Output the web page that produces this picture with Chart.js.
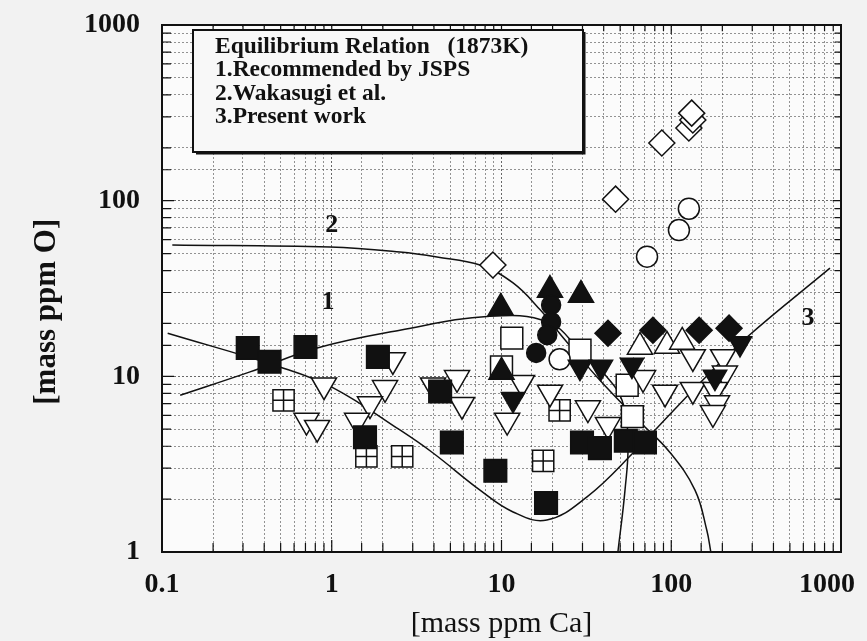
<!DOCTYPE html>
<html>
<head>
<meta charset="utf-8">
<script src="https://cdn.jsdelivr.net/npm/chart.js@4.4.1/dist/chart.umd.min.js"></script>
<style>
  html, body { margin: 0; padding: 0; background: #f2f2f2; }
</style>
</head>
<body>
<canvas id="chart" width="867" height="641"></canvas>
<script>
// tick labels
const xTickLabels = [0.1, 1, 10, 100, 1000];
const yTickLabels = [1, 10, 100, 1000];

// measured points, [mass ppm Ca] / [mass ppm O]
const filledSquareCa = [0.32, 0.43, 0.70, 1.87, 1.57, 4.35, 5.1, 9.2, 18.3, 29.8, 38, 54, 70];
const filledSquareO  = [14.5, 12.1, 14.7, 12.9, 4.5, 8.2, 4.2, 2.9, 1.9, 4.2, 3.9, 4.3, 4.2];

const gridSquareCa = [0.52, 1.6, 2.6, 17.6, 22];
const gridSquareO  = [7.3, 3.5, 3.5, 3.3, 6.4];

const openSquareCa = [11.5, 29, 10, 55, 59];
const openSquareO  = [16.5, 14.1, 11.3, 8.9, 5.9];

const openCircleCa = [72, 111, 127, 22];
const openCircleO  = [48, 68, 90, 12.5];

const filledCircleCa = [19.6, 19.6, 18.6, 16];
const filledCircleO  = [25.5, 20.4, 17.2, 13.6];

const filledTriUpCa = [9.9, 19.3, 29.4, 10];
const filledTriUpO  = [24.5, 31, 29, 10.6];

const openTriUpCa = [65.4, 94.4, 116];
const openTriUpO  = [14.7, 14.9, 15.7];

const filledTriDownCa = [11.7, 29, 38.5, 58.7, 181, 254];
const filledTriDownO  = [7.4, 11.3, 11.3, 11.6, 9.9, 15.4];

const openTriDownCa = [0.90, 0.71, 0.82, 2.29, 2.06, 1.68, 1.41, 3.95, 5.47, 5.85, 10.8, 13.2, 19.3, 32.3, 42.4, 68.2, 91.9, 134, 134, 202, 207, 181, 186, 176];
const openTriDownO  = [8.9, 5.6, 5.1, 12.4, 8.6, 6.95, 5.6, 8.9, 9.8, 6.9, 5.6, 9.2, 8.1, 6.6, 5.3, 9.8, 8.1, 12.9, 8.4, 12.9, 10.4, 8.4, 7.05, 6.2];

const filledDiamondCa = [42.4, 78, 146, 219];
const filledDiamondO  = [17.6, 18.3, 18.3, 18.8];

const openDiamondCa = [8.9, 47, 88, 127, 134, 132];
const openDiamondO  = [43, 102, 213, 259, 288, 315];

// equilibrium curves
const curve1Ca = [0.128, 0.33, 0.82, 2.52, 8.55, 18.8, 29, 40.7, 51.3, 55.6, 53.4, 48.5];
const curve1O  = [7.8, 10.6, 14.5, 18.3, 22, 20.4, 14.1, 10.2, 7.3, 4.3, 2.25, 1];

const curve2Ca = [0.115, 0.977, 2.52, 4.17, 7.47, 11.7, 16.9, 23.7, 38, 65.4, 98, 138, 162, 171];
const curve2O  = [55.9, 54.4, 51, 47.8, 43, 34, 23.9, 16.1, 9.5, 5.5, 3.7, 2.25, 1.33, 1];

const curve3Ca = [0.108, 0.495, 1.02, 2.52, 3.95, 7.47, 11.7, 18.5, 31.9, 59.5, 148, 279, 861];
const curve3O  = [17.6, 11.3, 8.6, 4.95, 3.66, 2.25, 1.69, 1.52, 2.06, 3.66, 9.2, 16.7, 41.3];

const legendLines = ['Equilibrium Relation   (1873K)', '1.Recommended by JSPS', '2.Wakasugi et al.', '3.Present work'];
const curveLabels = ['1', '2', '3'];
const curveLabelCa = [0.95, 1.0, 640];
const curveLabelO  = [26.5, 72.6, 21.5];

const SERIF = "'Liberation Serif', 'Times New Roman', serif";
const INK = '#111';

function pts(xs, ys) {
  return xs.map((x, i) => ({ x: x, y: ys[i] }));
}

function markers(xs, ys, style, filled, radius, rotation) {
  return {
    data: pts(xs, ys),
    pointStyle: style,
    pointRadius: radius,
    pointRotation: rotation || 0,
    pointBackgroundColor: filled ? INK : '#fff',
    pointBorderColor: INK,
    pointBorderWidth: 1.5,
    showLine: false,
    order: 1
  };
}

function curve(xs, ys) {
  return {
    data: pts(xs, ys),
    showLine: true,
    borderColor: INK,
    borderWidth: 1.5,
    pointRadius: 0,
    tension: 0.4,
    fill: false,
    order: 10
  };
}

const isDecade = v => Math.abs(Math.log10(v) - Math.round(Math.log10(v))) < 1e-6;

// background, frame, inward ticks, legend box, curve numbers
const decorations = {
  id: 'decorations',
  beforeDraw(chart) {
    const { ctx, chartArea: a } = chart;
    ctx.save();
    ctx.fillStyle = '#f2f2f2';
    ctx.fillRect(0, 0, chart.width, chart.height);
    ctx.fillStyle = '#fbfbfb';
    ctx.fillRect(a.left, a.top, a.right - a.left, a.bottom - a.top);
    ctx.restore();
  },
  afterDatasetsDraw(chart) {
    const { ctx, chartArea: a, scales } = chart;
    ctx.save();
    ctx.strokeStyle = INK;
    ctx.lineWidth = 1.2;
    scales.x.ticks.forEach(t => {
      const px = scales.x.getPixelForValue(t.value);
      const len = isDecade(t.value) ? 12 : 9;
      ctx.beginPath();
      ctx.moveTo(px, a.bottom); ctx.lineTo(px, a.bottom - len);
      ctx.moveTo(px, a.top); ctx.lineTo(px, a.top + len * 0.7);
      ctx.stroke();
    });
    scales.y.ticks.forEach(t => {
      const py = scales.y.getPixelForValue(t.value);
      const len = isDecade(t.value) ? 12 : 9;
      ctx.beginPath();
      ctx.moveTo(a.left, py); ctx.lineTo(a.left + len, py);
      ctx.moveTo(a.right, py); ctx.lineTo(a.right - len * 0.7, py);
      ctx.stroke();
    });
    ctx.lineWidth = 2;
    ctx.strokeRect(a.left, a.top, a.right - a.left, a.bottom - a.top);

    // legend box
    const bx = 193, by = 30, bw = 390, bh = 122;
    ctx.fillStyle = '#f8f8f8';
    ctx.fillRect(bx, by, bw, bh);
    ctx.lineWidth = 2;
    ctx.strokeRect(bx, by, bw, bh);
    ctx.lineWidth = 3;
    ctx.beginPath();
    ctx.moveTo(bx + bw + 1, by + 2); ctx.lineTo(bx + bw + 1, by + bh + 1);
    ctx.lineTo(bx + 3, by + bh + 1);
    ctx.stroke();
    ctx.fillStyle = INK;
    ctx.font = 'bold 23.5px ' + SERIF;
    ctx.textBaseline = 'middle';
    ctx.textAlign = 'left';
    legendLines.forEach((s, i) => ctx.fillText(s, 215, 47 + i * 23.4));

    // curve numbers
    ctx.font = 'bold 26px ' + SERIF;
    ctx.textAlign = 'center';
    curveLabels.forEach((s, i) => {
      ctx.fillText(s, scales.x.getPixelForValue(curveLabelCa[i]), scales.y.getPixelForValue(curveLabelO[i]));
    });
    ctx.restore();
  }
};

const gridColor = ctx => (ctx.tick && isDecade(ctx.tick.value)) ? 'rgba(40,40,40,0.7)' : 'rgba(60,60,60,0.55)';

new Chart(document.getElementById('chart').getContext('2d'), {
  type: 'scatter',
  data: {
    datasets: [
      curve(curve1Ca, curve1O),
      curve(curve2Ca, curve2O),
      curve(curve3Ca, curve3O),
      markers(openDiamondCa, openDiamondO, 'rectRot', false, 13),
      markers(openCircleCa, openCircleO, 'circle', false, 10.5),
      markers(openTriDownCa, openTriDownO, 'triangle', false, 14.5, 180),
      markers(openTriUpCa, openTriUpO, 'triangle', false, 14.5),
      markers(openSquareCa, openSquareO, 'rect', false, 15.5),
      markers(gridSquareCa, gridSquareO, 'rect', false, 15),
      Object.assign(markers(gridSquareCa, gridSquareO, 'cross', false, 10.6), { order: 0 }),
      Object.assign(markers(filledSquareCa, filledSquareO, 'rect', true, 16), { order: 0 }),
      Object.assign(markers(filledDiamondCa, filledDiamondO, 'rectRot', true, 13), { order: 0 }),
      Object.assign(markers(filledTriDownCa, filledTriDownO, 'triangle', true, 13.5, 180), { order: 0 }),
      Object.assign(markers(filledCircleCa, filledCircleO, 'circle', true, 9.5), { order: 0 }),
      Object.assign(markers(filledTriUpCa, filledTriUpO, 'triangle', true, 14.5), { order: 0 })
    ]
  },
  options: {
    responsive: false,
    animation: false,
    layout: { padding: { top: 25, right: 26, bottom: 0, left: 0 } },
    plugins: {
      legend: { display: false },
      tooltip: { enabled: false }
    },
    scales: {
      x: {
        type: 'logarithmic',
        min: 0.1,
        max: 1000,
        afterFit: s => { s.height = 89; s.paddingLeft = 0; s.paddingRight = 0; },
        border: { display: false, dash: [2, 2] },
        grid: { color: gridColor, lineWidth: 1, drawTicks: false },
        ticks: {
          autoSkip: false,
          maxRotation: 0,
          padding: 19,
          color: INK,
          font: { family: SERIF, size: 28, weight: 'bold', lineHeight: 1 },
          // the last label sits a little inside the frame edge, as in the figure
          callback: v => {
            if (xTickLabels.find(t => Math.abs(t - v) / t < 1e-6) === undefined) return '';
            return v === 1000 ? '1000\u2007\u2007' : String(v);
          }
        },
        title: {
          display: true,
          text: '[mass ppm Ca]',
          color: INK,
          font: { family: SERIF, size: 30, lineHeight: 1 },
          padding: { top: 0, bottom: 2 }
        }
      },
      y: {
        type: 'logarithmic',
        min: 1,
        max: 1000,
        afterFit: s => { s.width = 162; s.paddingTop = 0; s.paddingBottom = 0; },
        border: { display: false, dash: [2, 2] },
        grid: { color: gridColor, lineWidth: 1, drawTicks: false },
        ticks: {
          autoSkip: false,
          padding: 22,
          color: INK,
          font: { family: SERIF, size: 28, weight: 'bold', lineHeight: 1 },
          callback: v => yTickLabels.find(t => Math.abs(t - v) / t < 1e-6) !== undefined ? String(v) : ''
        },
        title: {
          display: true,
          text: '[mass ppm O]\u2002\u2002\u2002',
          color: INK,
          font: { family: SERIF, size: 31, weight: 'bold', lineHeight: 1 },
          padding: { top: 31, bottom: 0 }
        }
      }
    }
  },
  plugins: [decorations]
});
</script>
</body>
</html>
